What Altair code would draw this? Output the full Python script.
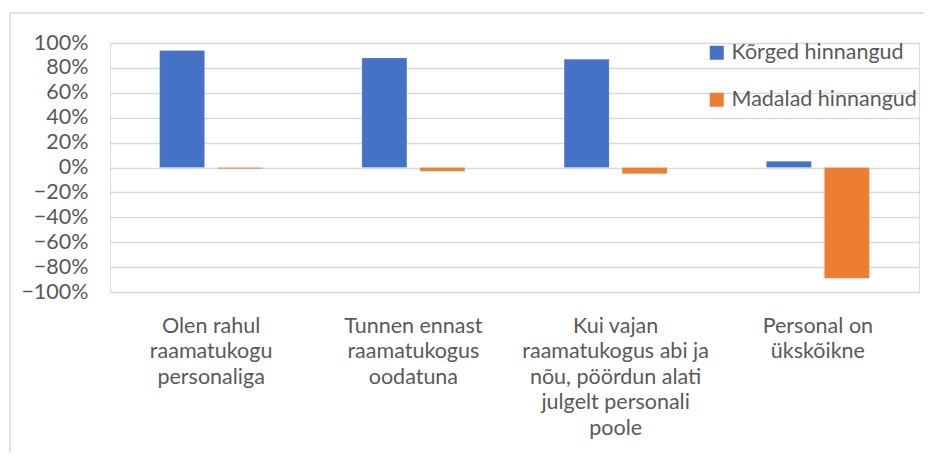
import altair as alt
import pandas as pd

categories = [
    "Olen rahul|raamatukogu|personaliga",
    "Tunnen ennast|raamatukogus|oodatuna",
    "Kui vajan|raamatukogus abi ja|nõu, pöördun alati|julgelt personali|poole",
    "Personal on|ükskõikne",
]
series = ["Kõrged hinnangud", "Madalad hinnangud"]
high_values = [0.94, 0.88, 0.87, 0.05]
low_values = [-0.01, -0.03, -0.05, -0.89]
y_ticks = [-1.0, -0.8, -0.6, -0.4, -0.2, 0.0, 0.2, 0.4, 0.6, 0.8, 1.0]
colors = ["#4472C4", "#ED7D31"]

rows = []
for c, h, l in zip(categories, high_values, low_values):
    rows.append({"cat": c, "series": series[0], "value": h})
    rows.append({"cat": c, "series": series[1], "value": l})
df = pd.DataFrame(rows)

W, H = 809, 249
FONT = "Lato"
GRAY = "#595959"
FS = 21.5

bars = alt.Chart(df).mark_bar(stroke="white", strokeWidth=0.5, strokeOpacity=0.4).encode(
    x=alt.X("cat:N", sort=categories,
            scale=alt.Scale(paddingInner=0.4907, paddingOuter=0.2454),
            axis=alt.Axis(title=None, labelAngle=0, domain=False, ticks=False,
                          labelExpr="split(datum.value, '|')",
                          labelFont=FONT, labelFontSize=FS, labelColor=GRAY,
                          labelLineHeight=25.5, labelPadding=23, labelBaseline="top",
                          labelLimit=0, grid=False)),
    xOffset=alt.XOffset("series:N", sort=series,
                        scale=alt.Scale(paddingInner=0.224, paddingOuter=0)),
    y=alt.Y("value:Q",
            scale=alt.Scale(domain=[-1, 1], nice=False, zero=False),
            axis=alt.Axis(title=None, format=".0%", values=y_ticks, domain=False,
                          ticks=False, labelFont=FONT, labelFontSize=FS,
                          labelColor=GRAY, labelPadding=22,
                          gridColor="#d9d9d9", gridWidth=1.5)),
    color=alt.Color("series:N", sort=series,
                    scale=alt.Scale(domain=series, range=colors),
                    legend=alt.Legend(title=None, orient="none", legendX=596, legendY=-1,
                                      symbolType="square", symbolSize=196,
                                      symbolStrokeWidth=0, labelFont=FONT,
                                      labelFontSize=FS, labelColor=GRAY,
                                      labelOffset=4, rowPadding=24, labelLimit=0,
                                      symbolOpacity=1)),
)

border_v = alt.Chart(pd.DataFrame({"a": [0]})).mark_rule(color="#d9d9d9", strokeWidth=1.5).encode(
    x=alt.value(-100), y=alt.value(-30), y2=alt.value(H + 200)
)
border_h = alt.Chart(pd.DataFrame({"a": [0]})).mark_rule(color="#d9d9d9", strokeWidth=1.5).encode(
    x=alt.value(-100), x2=alt.value(W + 30), y=alt.value(-30)
)

chart = alt.layer(border_v, border_h, bars).properties(
    width=W, height=H,
    autosize=alt.AutoSizeParams(type="none"),
    padding={"left": 102, "top": 35, "right": 5, "bottom": 161},
).configure_view(stroke=None).configure(background="white")

chart.save("out.html", embed_options={"renderer": "svg", "actions": False})
